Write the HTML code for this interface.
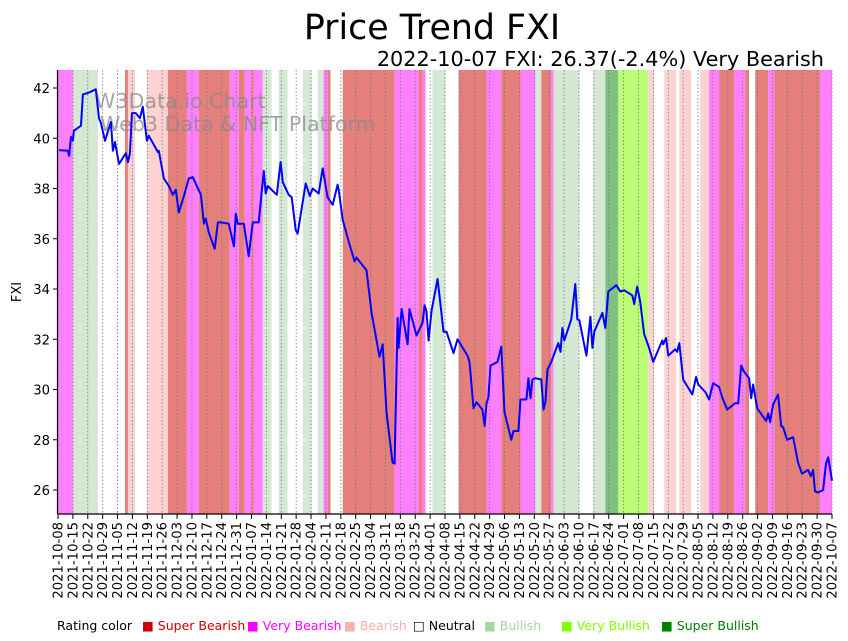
<!DOCTYPE html>
<html><head><meta charset="utf-8"><style>
body{margin:0;background:#fff;font-family:"Liberation Sans","DejaVu Sans",sans-serif}
#c{position:absolute;left:0;top:0}
</style></head><body>
<svg id="c" width="848" height="641" xmlns="http://www.w3.org/2000/svg">
<text x="432" y="39" font-size="34.8" text-anchor="middle" font-family="DejaVu Sans,sans-serif">Price Trend FXI</text>
<text x="824" y="66" font-size="20.8" text-anchor="end" font-family="DejaVu Sans,sans-serif">2022-10-07 FXI: 26.37(-2.4%) Very Bearish</text>
<g id="bands"></g>
<g id="grid"></g>
<text x="95" y="108" font-size="20.6" fill="#888" fill-opacity="0.75" font-family="DejaVu Sans,sans-serif">W3Data.io Chart</text>
<text x="100" y="131" font-size="20.6" fill="#888" fill-opacity="0.75" font-family="DejaVu Sans,sans-serif">Web3 Data &amp; NFT Platform</text>
<path id="line" fill="none" stroke="#0000ff" stroke-width="2" stroke-linejoin="round"/>
<g id="axes"></g>
<text transform="translate(21,292) rotate(-90)" font-size="13" text-anchor="middle" font-family="DejaVu Sans,sans-serif">FXI</text>
<g id="legend" font-size="12.5" font-family="DejaVu Sans,sans-serif">
<text x="57" y="630">Rating color</text>
<text x="142" y="630" fill="#cc0000">■ Super Bearish</text>
<text x="247" y="630" fill="#ff00ff">■ Very Bearish</text>
<text x="344" y="630" fill="#f8b0b0">■ Bearish</text>
<text x="413" y="630" fill="#000">□ Neutral</text>
<text x="484" y="630" fill="#a8d4a8">■ Bullish</text>
<text x="561" y="630" fill="#80ff00">■ Very Bullish</text>
<text x="661" y="630" fill="#008000">■ Super Bullish</text>
</g>
</svg>
<script>
const startDate = "2021-10-08";
const totalDays = 364;
const yTicks = [26,28,30,32,34,36,38,40,42];
const bandStarts = [0,7,18.8,31.5,32.9,36.2,41.8,51.7,60.6,66.2,80.8,85,87.8,91.1,92.1,96.3,100.5,103.8,108,115.1,119.3,122.1,124.9,126.8,128.2,133.9,158.3,169.6,171.4,172.9,176.1,182.2,188.4,201.5,208.5,217.5,224.5,227.3,232,233,245.2,251.8,257.4,263.5,277.6,280.4,285.1,290.7,292.2,297.8,302,306.2,310.9,318,323.2,325,327.9,334,336.8,358.4];
const bandRatings = ["VB","Bu","N","SB","B","N","B","SB","VB","SB","VB","SB","VB","SB","VB","Bu","N","Bu","N","Bu","N","Bu","VB","SB","N","SB","VB","SB","VB","N","Bu","N","SB","VB","SB","VB","Bu","SB","VB","Bu","N","Bu","SBu","VBu","B","N","B","N","B","N","B","VB","SB","VB","SB","N","SB","VB","SB","VB"];
const priceDays = [0.5,4.7,5.2,6.1,7,7.5,10.8,11.7,14.1,17.8,19.3,20.2,22.1,24.9,25.8,26.8,28.7,31.9,32.9,33.8,34.8,36.6,38.5,39.9,41.8,42.7,47,47.4,49.8,52.1,54,55.4,56.8,59.2,61.5,63.4,67.2,68.6,69.5,70.9,73.7,75.2,76.6,80.3,82.7,83.6,84.5,87.4,89.7,91.6,94.4,96.8,97.7,98.6,102.9,104.7,105.7,108.5,109.9,111.8,112.7,116.5,118.4,119.8,122.6,124.5,126.8,129.2,131.5,132,133.9,137.2,139.5,140.4,145.1,147.5,151.2,152.7,154.5,157.3,158.3,159.7,160.2,161.6,164.4,165.3,168.6,171.4,172.4,173.3,174.3,175.7,178.5,181.3,182.7,186,187.9,192.6,193.5,195.4,196.8,199.6,200.6,201.5,202.4,203.4,206.7,208.5,210,213.2,214.2,216.5,217.5,220.3,221.2,222.2,223.1,224.5,227.3,228.3,229.2,230.2,232,235.3,236.3,237.2,238.1,241.4,243.3,244.2,245.2,248.5,250.4,251.3,252.2,256,257.4,258.8,262.6,264.4,266.3,270.1,271,272.4,273.8,275.7,277.6,279.9,284.2,284.6,286,287,290.3,291.2,292.2,294,298.3,300.1,301.1,304.4,306.2,308.1,310.9,312.3,314.7,318.4,319.9,321.3,322.7,325,326,326.9,328.8,333,334,334.9,336.3,338.6,340.1,341,342.9,345.7,348,349.9,352.7,354.1,355.1,356,357.4,359.8,361.2,362.2,364];
const priceValues = [39.53,39.5,39.3,40.05,39.9,40.3,40.5,41.75,41.8,41.95,40.8,40.6,39.9,40.65,39.5,39.85,38.98,39.4,39.05,39.4,41.0,41.0,40.8,41.25,39.9,40.1,39.45,39.5,38.4,38.1,37.75,37.95,37.05,37.7,38.4,38.45,37.75,36.6,36.8,36.25,35.6,36.65,36.65,36.6,35.7,37.0,36.6,36.6,35.3,36.65,36.65,38.7,37.8,38.1,37.75,39.05,38.25,37.75,37.65,36.35,36.2,38.2,37.7,38.0,37.8,38.8,37.65,37.35,38.15,37.95,36.75,35.75,35.1,35.25,34.75,33.05,31.3,31.8,29.1,27.1,27.05,32.85,31.65,33.2,31.8,33.2,32.15,32.65,33.35,33.1,31.95,33.15,34.4,32.3,32.3,31.45,32.0,31.35,31.1,29.25,29.5,29.2,28.55,29.45,29.7,30.95,31.1,31.7,29.1,28.0,28.35,28.35,29.6,29.6,30.45,29.65,30.4,30.45,30.4,29.2,29.5,30.8,31.1,31.85,31.5,32.45,31.95,32.8,34.2,32.8,32.75,31.35,32.9,31.65,32.3,33.05,32.45,33.9,34.15,33.9,33.95,33.75,33.4,34.1,33.5,32.2,31.75,31.1,31.95,31.8,32.05,31.35,31.6,31.5,31.85,30.4,29.8,30.5,30.2,29.9,29.6,30.25,30.1,29.7,29.2,29.45,29.45,30.95,30.7,30.45,29.65,30.2,29.25,28.75,29.05,28.7,29.4,29.8,28.55,28.5,28.0,28.1,27.1,26.65,26.8,26.55,26.8,25.95,25.9,26.0,27.05,27.3,26.37];

const NS="http://www.w3.org/2000/svg";
const L=58,R=832,T=70,B=514;
const bandColors={SB:"#e57f7b",VB:"#ff80ff",B:"#ffd2d2",N:"#ffffff",Bu:"#d4e8d4",VBu:"#bbff78",SBu:"#80c080"};
function xs(d){return L+d*(R-L)/totalDays;}
function ys(v){return 490-(v-26)*(490-88)/16;}
function mk(tag,attrs,parent){const e=document.createElementNS(NS,tag);for(const k in attrs)e.setAttribute(k,attrs[k]);parent.appendChild(e);return e;}

const bands=document.getElementById('bands');
for(let i=0;i<bandStarts.length;i++){
  const s=bandStarts[i], e=i+1<bandStarts.length?bandStarts[i+1]:totalDays;
  const r=mk('rect',{x:xs(s),y:T,width:Math.max(0,xs(e)-xs(s)),height:B-T,fill:bandColors[bandRatings[i]]},bands);
  
  
}
const grid=document.getElementById('grid'), axes=document.getElementById('axes');
const sd=new Date(startDate+"T00:00:00Z");
for(let d=0;d<=totalDays;d+=7){
  const x=xs(d);
  const g=mk('line',{x1:x,x2:x,y1:T,y2:B,stroke:"#777","stroke-width":0.8,"stroke-dasharray":"1.5,2"},grid);
  
  
  mk('line',{x1:x,x2:x,y1:B,y2:B+5,stroke:"#000"},axes);
  const dt=new Date(sd.getTime()+d*86400000).toISOString().slice(0,10);
  const t=mk('text',{transform:`translate(${x+4.5},${B+8}) rotate(-90)`,"font-size":13.2,"text-anchor":"end","font-family":"DejaVu Sans,sans-serif"},axes);
  t.textContent=dt;
  
  
}
yTicks.forEach(v=>{
  const y=ys(v);
  mk('line',{x1:L-5,x2:L,y1:y,y2:y,stroke:"#000"},axes);
  const t=mk('text',{x:L-8,y:y+5,"font-size":13.2,"text-anchor":"end","font-family":"DejaVu Sans,sans-serif"},axes);
  t.textContent=v;
  
  
});
mk('line',{x1:L-0.5,x2:L-0.5,y1:T,y2:B,stroke:"#000","stroke-width":1.2},axes);
mk('line',{x1:L-0.5,x2:R,y1:B,y2:B,stroke:"#000","stroke-width":1.2},axes);
document.getElementById('line').setAttribute('d',priceDays.map((d,i)=>(i?'L':'M')+xs(d).toFixed(1)+','+ys(priceValues[i]).toFixed(1)).join(''));
</script>
</body></html>
